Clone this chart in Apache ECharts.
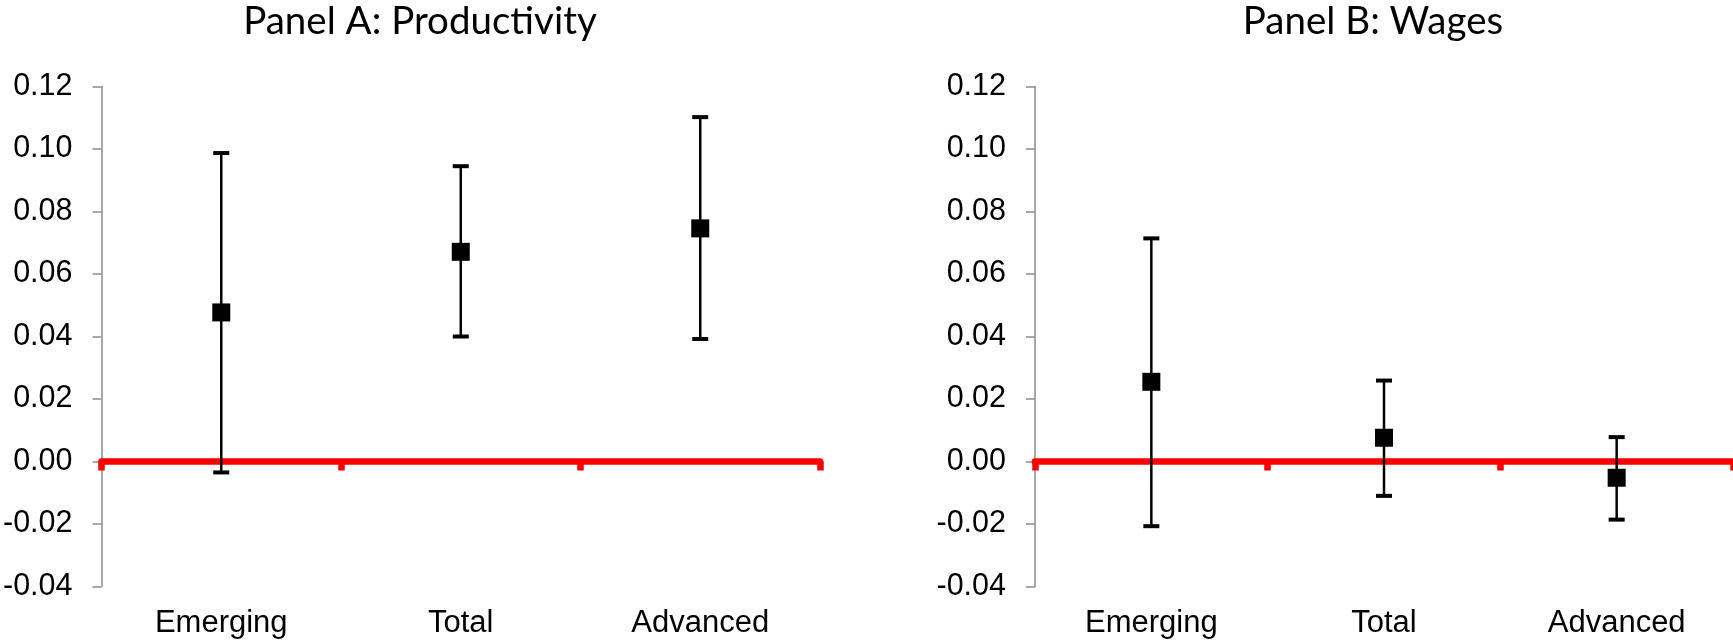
<!DOCTYPE html>
<html>
<head>
<meta charset="utf-8">
<script src="https://cdn.jsdelivr.net/npm/echarts@6/dist/echarts.min.js"></script>
<style>
html,body{margin:0;padding:0;background:#fff;}
#chart{width:1733px;height:641px;}
</style>
</head>
<body>
<div id="chart"></div>
<script>
// ---- data ----
const categories = ['Emerging', 'Total', 'Advanced'];
const panelTitles = ['Panel A: Productivity', 'Panel B: Wages'];
const prodEstimate = [0.0477, 0.0671, 0.0746];
const prodLow = [-0.0035, 0.0400, 0.0392];
const prodHigh = [0.0987, 0.0945, 0.1102];
const wageEstimate = [0.0255, 0.0076, -0.0052];
const wageLow = [-0.0207, -0.0110, -0.0186];
const wageHigh = [0.0714, 0.0259, 0.0078];
const yMin = -0.04, yMax = 0.12, yStep = 0.02;

// ---- styling ----
const LABEL_FONT = 'Liberation Sans, Arial, sans-serif';
const TITLE_FONT = 'Lato, sans-serif';

const chart = echarts.init(document.getElementById('chart'), null, {renderer: 'canvas'});

const grids = [
  {left: 98, top: 86.5, width: 722, height: 500},
  {left: 1035, top: 86.5, width: 699, height: 500}
];

function errorBarRender(params, api) {
  const x = api.value(0);
  const lo = api.coord([x, api.value(1)]);
  const hi = api.coord([x, api.value(2)]);
  const cap = 8;
  const s = {stroke: '#000', lineWidth: 2.5};
  const c = {stroke: '#000', lineWidth: 4};
  return {
    type: 'group',
    children: [
      {type: 'line', shape: {x1: lo[0], y1: lo[1], x2: hi[0], y2: hi[1]}, style: s},
      {type: 'line', shape: {x1: lo[0] - cap, y1: lo[1], x2: lo[0] + cap, y2: lo[1]}, style: c},
      {type: 'line', shape: {x1: hi[0] - cap, y1: hi[1], x2: hi[0] + cap, y2: hi[1]}, style: c}
    ]
  };
}

const xAxes = [], yAxes = [], series = [];
const panels = [
  {est: prodEstimate, lo: prodLow, hi: prodHigh},
  {est: wageEstimate, lo: wageLow, hi: wageHigh}
];
panels.forEach((p, g) => {
  // red zero axis line with ticks
  xAxes.push({
    type: 'category', gridIndex: g, data: categories, position: 'bottom',
    boundaryGap: true,
    axisLine: {show: true, onZero: true, lineStyle: {color: '#FF0000', width: 6.5}},
    axisTick: {show: true, length: 9, lineStyle: {color: '#FF0000', width: 6.5}},
    axisLabel: {show: false}, splitLine: {show: false}, z: 3
  });
  // bottom category labels
  xAxes.push({
    type: 'category', gridIndex: g, data: categories, position: 'bottom',
    boundaryGap: true,
    axisLine: {show: false, onZero: false},
    axisTick: {show: false},
    axisLabel: {show: true, margin: 21, color: '#000', fontSize: 31, fontFamily: LABEL_FONT},
    splitLine: {show: false}
  });
  yAxes.push({
    type: 'value', gridIndex: g, min: yMin, max: yMax, interval: yStep,
    axisLine: {show: true, lineStyle: {color: '#8c8c8c', width: 1.5}},
    axisTick: {show: true, length: 9, lineStyle: {color: '#8c8c8c', width: 1.5}},
    axisLabel: {margin: 29, color: '#000', fontSize: 30.5, fontFamily: LABEL_FONT,
      formatter: v => (Math.abs(v) < 1e-9 ? 0 : v).toFixed(2)},
    splitLine: {show: false}
  });
  series.push({
    type: 'custom', xAxisIndex: g * 2, yAxisIndex: g, z: 5,
    renderItem: errorBarRender,
    encode: {x: 0, y: [1, 2]},
    data: categories.map((c, i) => [i, p.lo[i], p.hi[i]]),
    silent: true
  });
  series.push({
    type: 'scatter', xAxisIndex: g * 2, yAxisIndex: g, z: 6,
    symbol: 'rect', symbolSize: 18,
    itemStyle: {color: '#000', opacity: 1},
    data: categories.map((c, i) => [i, p.est[i]]),
    silent: true
  });
});

const option = {
  animation: false,
  backgroundColor: '#fff',
  grid: grids,
  xAxis: xAxes,
  yAxis: yAxes,
  series: series,
  graphic: [
    {type: 'text', x: 420, y: 22, style: {text: panelTitles[0], font: '38.5px ' + TITLE_FONT, fill: '#000',
      textAlign: 'center', textVerticalAlign: 'middle', align: 'center', verticalAlign: 'middle'}},
    {type: 'text', x: 1373, y: 22, style: {text: panelTitles[1], font: '38.5px ' + TITLE_FONT, fill: '#000',
      textAlign: 'center', textVerticalAlign: 'middle', align: 'center', verticalAlign: 'middle'}}
  ]
};
chart.setOption(option);
</script>
</body>
</html>
